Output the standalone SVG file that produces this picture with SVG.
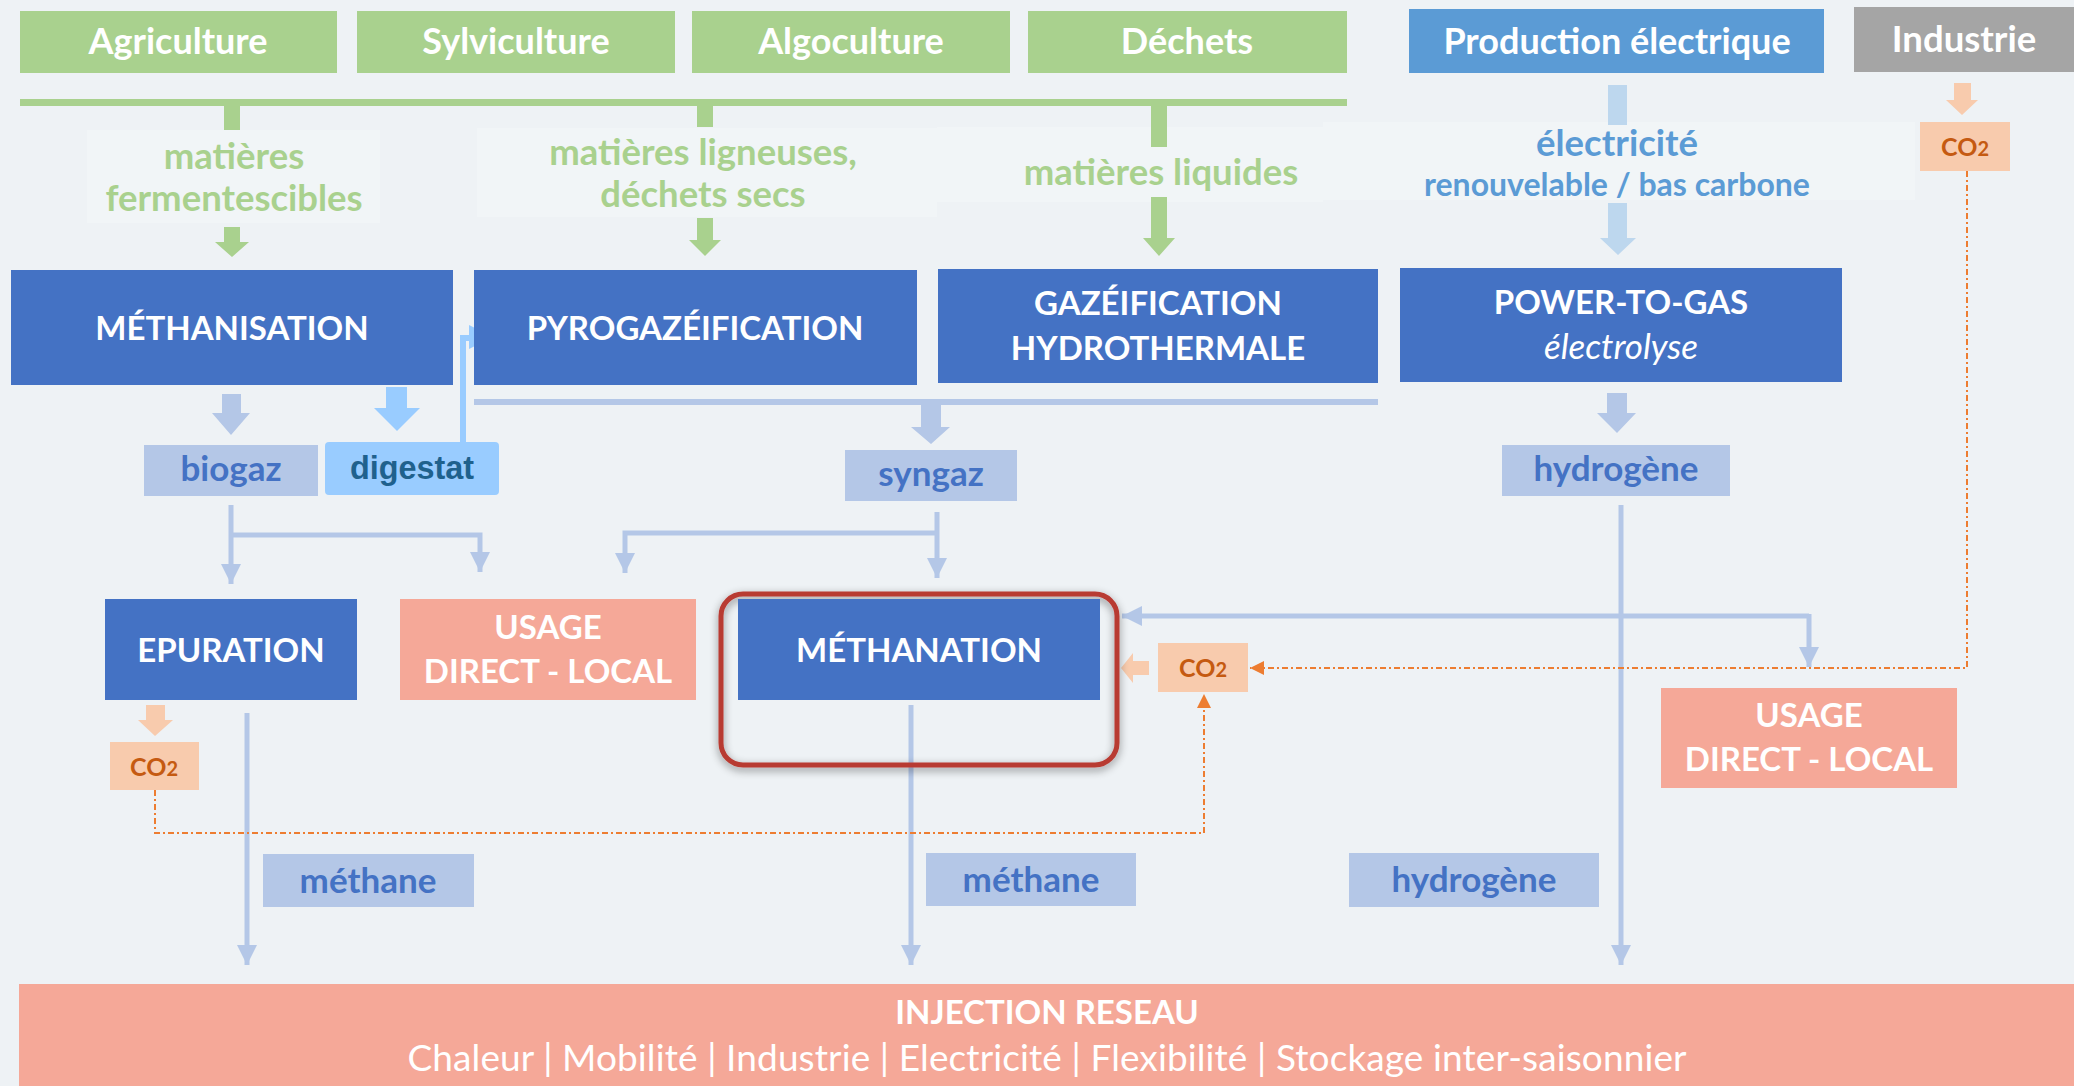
<svg xmlns="http://www.w3.org/2000/svg" width="2074" height="1086" viewBox="0 0 2074 1086">
  <defs>
    <style>
      .bg { fill: #EEF2F5; }
      .src { fill: #A9D18E; }
      .proc { fill: #4472C4; }
      .use { fill: #F5A898; }
      .lbl { fill: #B4C7E7; }
      .co2 { fill: #F8CBAD; }
      .hl { fill: #FFFFFF; fill-opacity: 0.22; }
      .t { font-family: Lato, "Liberation Sans", sans-serif; font-weight: bold; text-anchor: middle; }
      .tw { fill: #FFFFFF; }
      .tg { fill: #A9D18E; font-size: 36.5px; }
      .tb { fill: #4472C4; font-size: 35px; }
      .te { fill: #5B9BD5; }
      .tc { fill: #C55A11; font-size: 25px; }
      .big { font-size: 33px; }
      .top { font-size: 36px; }
      .conn { fill: none; stroke: #B4C7E7; stroke-width: 5; }
      .dot { fill: none; stroke: #ED7D31; stroke-width: 2; stroke-dasharray: 6 3 2 3; }
    </style>
    <marker id="ah" viewBox="0 0 20 20" refX="20" refY="10" markerWidth="20" markerHeight="20" markerUnits="userSpaceOnUse" orient="auto">
      <path d="M0,0 L20,10 L0,20 Z" fill="#B4C7E7"/>
    </marker>
    <marker id="ao" viewBox="0 0 14 14" refX="14" refY="7" markerWidth="14" markerHeight="14" markerUnits="userSpaceOnUse" orient="auto">
      <path d="M0,0 L14,7 L0,14 Z" fill="#ED7D31"/>
    </marker>
    <filter id="sh" x="-10%" y="-10%" width="120%" height="130%">
      <feDropShadow dx="0" dy="3" stdDeviation="4" flood-color="#000" flood-opacity="0.45"/>
    </filter>
  </defs>

  <rect class="bg" x="0" y="0" width="2074" height="1086"/>

  <!-- faint label highlights -->
  <rect class="hl" x="87" y="130" width="293" height="93"/>
  <rect class="hl" x="477" y="128" width="460" height="89"/>
  <rect class="hl" x="937" y="127" width="386" height="75"/>
  <rect class="hl" x="1323" y="122" width="592" height="78"/>

  <g id="connectors">
    <!-- green distribution -->
    <rect x="20" y="99" width="1327" height="7" fill="#A9D18E"/>
    <rect x="224" y="106" width="16" height="24" fill="#A9D18E"/>
    <rect x="697" y="106" width="16" height="21" fill="#A9D18E"/>
    <rect x="1151" y="106" width="16" height="41" fill="#A9D18E"/>
    <path d="M224,227 H240 V242 H249 L232,257 L215,242 H224 Z" fill="#A9D18E"/>
    <path d="M697,218 H713 V240 H721 L705,256 L689,240 H697 Z" fill="#A9D18E"/>
    <path d="M1151,197 H1167 V238 H1175 L1159,256 L1143,238 H1151 Z" fill="#A9D18E"/>

    <!-- electricity -->
    <rect x="1608" y="85" width="19" height="40" fill="#BDD7EE"/>
    <path d="M1608,203 H1627 V238 H1636 L1618,255 L1600,238 H1608 Z" fill="#BDD7EE"/>

    <!-- industrie CO2 -->
    <path d="M1954,83 H1971 V100 H1978 L1962,115 L1946,100 H1954 Z" fill="#F8CBAD"/>

    <!-- block arrows below processes -->
    <path d="M222,394 H241 V413 H250 L231,435 L212,413 H222 Z" fill="#B4C7E7"/>
    <path d="M386,387 H407 V408 H420 L397,431 L374,408 H386 Z" fill="#99CCFF"/>
    <rect x="474" y="399" width="904" height="6" fill="#B4C7E7"/>
    <path d="M921,405 H941 V427 H950 L931,444 L911,427 H921 Z" fill="#B4C7E7"/>
    <path d="M1607,393 H1627 V413 H1636 L1617,433 L1597,413 H1607 Z" fill="#B4C7E7"/>

    <!-- digestat to pyrogazeification -->
    <path d="M463,442 V338 H472" fill="none" stroke="#99CCFF" stroke-width="6"/>
    <path d="M469,325 L493,337 L469,349 Z" fill="#99CCFF"/>

    <!-- biogaz tree -->
    <path class="conn" d="M231,505 V584" marker-end="url(#ah)"/>
    <path class="conn" d="M231,535 H480 V572" marker-end="url(#ah)"/>
    <!-- syngaz tree -->
    <path class="conn" d="M937,512 V578" marker-end="url(#ah)"/>
    <path class="conn" d="M937,533 H625 V573" marker-end="url(#ah)"/>
    <!-- hydrogene tree -->
    <path class="conn" d="M1621,505 V965" marker-end="url(#ah)"/>
    <path class="conn" d="M1809,616 H1122" marker-end="url(#ah)"/>
    <path class="conn" d="M1809,614 V667" marker-end="url(#ah)"/>
    <!-- methane lines -->
    <path class="conn" d="M247,713 V965" marker-end="url(#ah)"/>
    <path class="conn" d="M911,705 V965" marker-end="url(#ah)"/>

    <!-- CO2 arrows -->
    <path d="M146,705 H165 V720 H173 L155,736 L138,720 H146 Z" fill="#F8CBAD"/>
    <path d="M1149,661 V675 H1133 V683 L1121,668 L1133,653 V661 Z" fill="#F8CBAD"/>
    <path class="dot" d="M1967,171 V668 H1250" marker-end="url(#ao)"/>
    <path class="dot" d="M155,790 V833 H1204 V694" marker-end="url(#ao)"/>
  </g>

  <!-- sources -->
  <g id="agriculture"><rect class="src" x="20" y="11" width="317" height="62"/><text class="t tw top" x="178" y="54">Agriculture</text></g>
  <g id="sylviculture"><rect class="src" x="357" y="11" width="318" height="62"/><text class="t tw top" x="516" y="54">Sylviculture</text></g>
  <g id="algoculture"><rect class="src" x="692" y="11" width="318" height="62"/><text class="t tw top" x="851" y="54">Algoculture</text></g>
  <g id="dechets"><rect class="src" x="1028" y="11" width="319" height="62"/><text class="t tw top" x="1187" y="54">Déchets</text></g>
  <g id="production-electrique"><rect x="1409" y="9" width="415" height="64" fill="#5B9BD5"/><text class="t tw top" x="1617" y="54">Production électrique</text></g>
  <g id="industrie"><rect x="1854" y="7" width="220" height="65" fill="#A5A5A5"/><text class="t tw" x="1964" y="52" font-size="36.5">Industrie</text></g>

  <!-- flow labels -->
  <g id="label-fermentescibles"><text class="t tg" x="234" y="169">matières</text><text class="t tg" x="234" y="211">fermentescibles</text></g>
  <g id="label-ligneuses"><text class="t tg" x="703" y="165">matières ligneuses,</text><text class="t tg" x="703" y="207">déchets secs</text></g>
  <g id="label-liquides"><text class="t tg" x="1161" y="185">matières liquides</text></g>
  <g id="label-electricite"><text class="t te" x="1617" y="156" font-size="36.5">électricité</text><text class="t te" x="1617" y="196" font-size="32">renouvelable / bas carbone</text></g>
  <g id="co2-industrie"><rect class="co2" x="1920" y="122" width="90" height="49"/><text class="t tc" x="1965" y="156">CO<tspan font-size="20">2</tspan></text></g>

  <!-- processes -->
  <g id="methanisation"><rect class="proc" x="11" y="270" width="442" height="115"/><text class="t tw big" x="232" y="340">MÉTHANISATION</text></g>
  <g id="pyrogazeification"><rect class="proc" x="474" y="270" width="443" height="115"/><text class="t tw big" x="695" y="340">PYROGAZÉIFICATION</text></g>
  <g id="gazeification-hydrothermale"><rect class="proc" x="938" y="269" width="440" height="114"/><text class="t tw big" x="1158" y="315">GAZÉIFICATION</text><text class="t tw big" x="1158" y="360">HYDROTHERMALE</text></g>
  <g id="power-to-gas"><rect class="proc" x="1400" y="268" width="442" height="114"/><text class="t tw big" x="1621" y="314">POWER-TO-GAS</text><text class="t tw" x="1621" y="359" style="font-size:35px;font-weight:normal;font-style:italic">électrolyse</text></g>

  <!-- intermediate products -->
  <g id="biogaz"><rect class="lbl" x="144" y="445" width="174" height="51"/><text class="t tb" x="231" y="481">biogaz</text></g>
  <g id="digestat"><rect x="325" y="442" width="174" height="53" rx="4" fill="#99CCFF"/><text x="412" y="479" font-family="'Liberation Sans', Arial, sans-serif" font-weight="bold" font-size="32.4" fill="#1F618D" text-anchor="middle">digestat</text></g>
  <g id="syngaz"><rect class="lbl" x="845" y="450" width="172" height="51"/><text class="t tb" x="931" y="486">syngaz</text></g>
  <g id="hydrogene-1"><rect class="lbl" x="1502" y="445" width="228" height="51"/><text class="t tb" x="1616" y="481" font-size="36.4">hydrogène</text></g>

  <!-- second level -->
  <g id="epuration"><rect class="proc" x="105" y="599" width="252" height="101"/><text class="t tw big" x="231" y="662">EPURATION</text></g>
  <g id="usage-direct-1"><rect class="use" x="400" y="599" width="296" height="101"/><text class="t tw big" x="548" y="639">USAGE</text><text class="t tw big" x="548" y="683">DIRECT - LOCAL</text></g>
  <g id="methanation">
    <rect x="721" y="594" width="396" height="171" rx="22" fill="none" stroke="#B83A33" stroke-width="5" filter="url(#sh)"/>
    <rect class="proc" x="738" y="599" width="362" height="101"/>
    <text class="t tw big" x="919" y="662">MÉTHANATION</text>
  </g>
  <g id="co2-methanation"><rect class="co2" x="1158" y="643" width="90" height="49"/><text class="t tc" x="1203" y="677">CO<tspan font-size="20">2</tspan></text></g>
  <g id="usage-direct-2"><rect class="use" x="1661" y="688" width="296" height="100"/><text class="t tw big" x="1809" y="727">USAGE</text><text class="t tw big" x="1809" y="771">DIRECT - LOCAL</text></g>
  <g id="co2-epuration"><rect class="co2" x="110" y="742" width="89" height="48"/><text class="t tc" x="154" y="776">CO<tspan font-size="20">2</tspan></text></g>

  <!-- outputs -->
  <g id="methane-1"><rect class="lbl" x="263" y="854" width="211" height="53"/><text class="t tb" x="368" y="893" font-size="38">méthane</text></g>
  <g id="methane-2"><rect class="lbl" x="926" y="853" width="210" height="53"/><text class="t tb" x="1031" y="892" font-size="38">méthane</text></g>
  <g id="hydrogene-2"><rect class="lbl" x="1349" y="853" width="250" height="54"/><text class="t tb" x="1474" y="892" font-size="38">hydrogène</text></g>

  <g id="injection-reseau">
    <rect class="use" x="19" y="984" width="2055" height="102"/>
    <text class="t tw" x="1047" y="1024" font-size="33">INJECTION RESEAU</text>
    <text class="t tw" x="1047" y="1071" style="font-size:37px;font-weight:normal" textLength="1279" lengthAdjust="spacing">Chaleur | Mobilité | Industrie | Electricité | Flexibilité | Stockage inter-saisonnier</text>
  </g>
</svg>
